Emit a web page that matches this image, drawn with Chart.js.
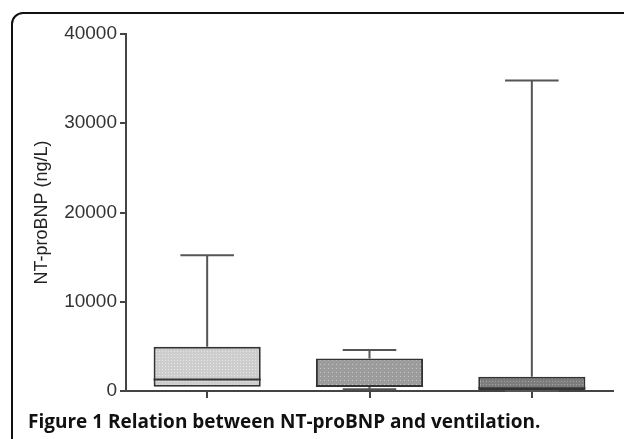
<!DOCTYPE html>
<html>
<head>
<meta charset="utf-8">
<script src="https://cdn.jsdelivr.net/npm/chart.js@4/dist/chart.umd.min.js"></script>
<style>
  html, body { margin: 0; padding: 0; background: #fff; overflow: hidden; }
  #wrap { position: relative; width: 624px; height: 439px; }
  #frame { position: absolute; left: 11px; top: 12px; width: 700px; height: 500px;
           border: 2px solid #111; border-radius: 12px; box-sizing: border-box; }
  #chart { position: absolute; left: 0; top: 0; }
  #caption { position: absolute; left: 28px; top: 408px; font: bold 19px "Open Sans", sans-serif;
             color: #111; white-space: nowrap; }
</style>
</head>
<body>
<div id="wrap">
  <div id="frame"></div>
  <canvas id="chart" width="624" height="439"></canvas>
  <div id="caption">Figure 1 Relation between NT-proBNP and ventilation.</div>
</div>
<script>
// box plot values (ng/L)
const groups = ["Group 1", "Group 2", "Group 3"]
const mins = [480, 190, 0]
const q1s = [480, 450, 100]
const medians = [1300, 560, 300]
const q3s = [4950, 3650, 1600]
const maxs = [15200, 4600, 34800]
const yTicks = [0, 10000, 20000, 30000, 40000]

// dotted grey fills like the original print
function dotPattern(base, dot, size) {
  const c = document.createElement("canvas")
  c.width = size; c.height = size
  const g = c.getContext("2d")
  g.fillStyle = base; g.fillRect(0, 0, size, size)
  g.fillStyle = dot; g.fillRect(0, 0, 1, 1)
  return g.createPattern(c, "repeat")
}
const ctx = document.getElementById("chart").getContext("2d")
const fills = [
  dotPattern("#cdcdcd", "#e6e6e6", 3),
  dotPattern("#9c9c9c", "#c4c4c4", 4),
  dotPattern("#7c7c7c", "#a8a8a8", 3)
]

// whiskers, caps and medians, placed through the chart scales
const whiskers = {
  id: "whiskers",
  afterDatasetsDraw(chart) {
    const x = chart.scales.x, y = chart.scales.y, c = chart.ctx
    const meta = chart.getDatasetMeta(0)
    c.save()
    groups.forEach((g, i) => {
      const cx = x.getPixelForValue(i)
      const half = meta.data[i].width / 4
      c.strokeStyle = "#555"
      c.lineWidth = 2
      c.beginPath()
      c.moveTo(cx, y.getPixelForValue(q3s[i])); c.lineTo(cx, y.getPixelForValue(maxs[i]))
      c.moveTo(cx - half, y.getPixelForValue(maxs[i])); c.lineTo(cx + half, y.getPixelForValue(maxs[i]))
      if (mins[i] < q1s[i]) {
        c.moveTo(cx, y.getPixelForValue(q1s[i])); c.lineTo(cx, y.getPixelForValue(mins[i]))
        c.moveTo(cx - half, y.getPixelForValue(mins[i])); c.lineTo(cx + half, y.getPixelForValue(mins[i]))
      }
      c.stroke()
      c.strokeStyle = "#333"
      c.beginPath()
      c.moveTo(cx - meta.data[i].width / 2, y.getPixelForValue(medians[i]))
      c.lineTo(cx + meta.data[i].width / 2, y.getPixelForValue(medians[i]))
      c.stroke()
    })
    c.restore()
  }
}

new Chart(ctx, {
  type: "bar",
  data: {
    labels: groups,
    datasets: [{
      data: groups.map((g, i) => [q1s[i], q3s[i]]),
      backgroundColor: fills,
      borderColor: "#333",
      borderWidth: 2,
      borderSkipped: false,
      barPercentage: 0.66,
      categoryPercentage: 1
    }]
  },
  options: {
    responsive: false,
    animation: false,
    layout: { padding: { left: 27, top: 34, right: 11, bottom: 40 } },
    plugins: { legend: { display: false }, tooltip: { enabled: false } },
    scales: {
      x: {
        grid: { offset: false, drawOnChartArea: false, drawTicks: true, tickLength: 7, color: "#444", lineWidth: 2 },
        border: { color: "#444", width: 2 },
        ticks: { display: false },
        afterFit: s => { s.height = 8 }
      },
      y: {
        min: 0, max: 40000,
        afterBuildTicks: s => { s.ticks = yTicks.map(v => ({ value: v })) },
        grid: { drawOnChartArea: false, drawTicks: true, tickLength: 6, color: "#444", lineWidth: 2 },
        border: { color: "#444", width: 2 },
        ticks: { color: "#333", padding: 3, font: { family: "Liberation Sans", size: 19 }, callback: v => String(v) },
        title: { display: true, text: "NT-proBNP (ng/L)", color: "#222", font: { family: "Liberation Sans", size: 18 } },
        afterFit: s => { s.width = 99 }
      }
    }
  },
  plugins: [whiskers]
})
</script>
</body>
</html>
